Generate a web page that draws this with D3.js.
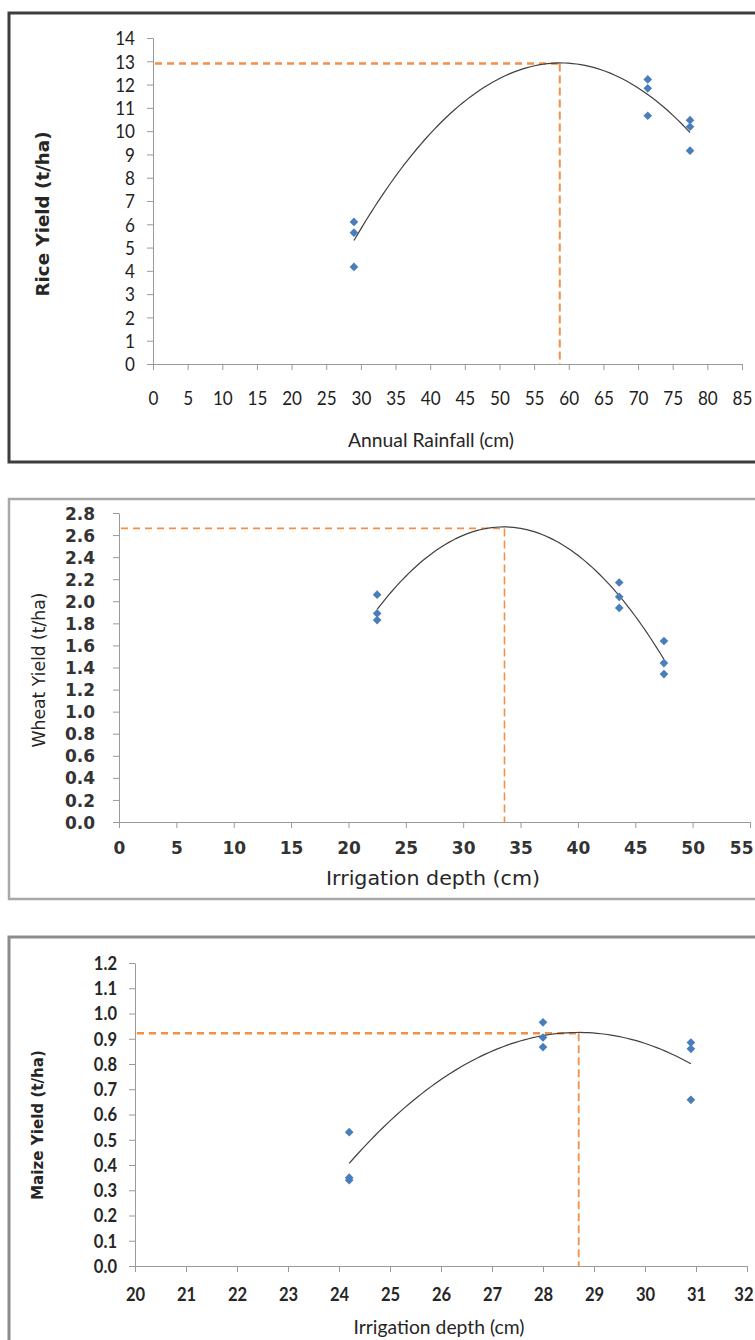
<!DOCTYPE html>
<html>
<head>
<meta charset="utf-8">
<script src="https://cdn.jsdelivr.net/npm/d3@7"></script>
<style>
  body { margin: 0; background: #fff; }
  svg { display: block; }
</style>
</head>
<body>
<svg id="chart"></svg>
<script>
// rice vs annual rainfall
var riceX = [29, 29, 29, 71.4, 71.4, 71.4, 77.5, 77.5, 77.5]
var riceY = [6.10, 5.64, 4.17, 12.22, 11.84, 10.66, 10.47, 10.19, 9.16]
var riceOpt = [58.7, 12.9]
var riceXTicks = [0, 5, 10, 15, 20, 25, 30, 35, 40, 45, 50, 55, 60, 65, 70, 75, 80, 85]
var riceYTicks = [0, 1, 2, 3, 4, 5, 6, 7, 8, 9, 10, 11, 12, 13, 14]

// wheat vs irrigation depth
var wheatX = [22.5, 22.5, 22.5, 43.6, 43.6, 43.6, 47.5, 47.5, 47.5]
var wheatY = [2.06, 1.89, 1.83, 2.17, 2.04, 1.94, 1.64, 1.44, 1.34]
var wheatOpt = [33.6, 2.66]
var wheatXTicks = [0, 5, 10, 15, 20, 25, 30, 35, 40, 45, 50, 55]
var wheatYTicks = [0, 0.2, 0.4, 0.6, 0.8, 1.0, 1.2, 1.4, 1.6, 1.8, 2.0, 2.2, 2.4, 2.6, 2.8]

// maize vs irrigation depth
var maizeX = [24.2, 24.2, 24.2, 28.0, 28.0, 28.0, 30.9, 30.9, 30.9]
var maizeY = [0.53, 0.35, 0.34, 0.965, 0.905, 0.867, 0.885, 0.86, 0.658]
var maizeOpt = [28.7, 0.922]
var maizeXTicks = [20, 21, 22, 23, 24, 25, 26, 27, 28, 29, 30, 31, 32]
var maizeYTicks = [0, 0.1, 0.2, 0.3, 0.4, 0.5, 0.6, 0.7, 0.8, 0.9, 1.0, 1.1, 1.2]

var width = 755, height = 1340
var calibri = "Lato, 'Open Sans', sans-serif"
var verdana = "'DejaVu Sans', Verdana, sans-serif"

const svg = d3.select("#chart")
  .attr("width", width)
  .attr("height", height)
  .attr("viewBox", [0, 0, width, height])

// least squares quadratic, like the excel trendline
function polyFit(xs, ys) {
  var s = [0, 0, 0, 0, 0], t = [0, 0, 0]
  xs.forEach((x, i) => {
    for (var k = 0; k < 5; k++) s[k] += Math.pow(x, k)
    for (var k = 0; k < 3; k++) t[k] += ys[i] * Math.pow(x, k)
  })
  var m = [[s[0], s[1], s[2], t[0]], [s[1], s[2], s[3], t[1]], [s[2], s[3], s[4], t[2]]]
  for (var c = 0; c < 3; c++) {
    for (var r = c + 1; r < 3; r++) {
      var f = m[r][c] / m[c][c]
      for (var k = c; k < 4; k++) m[r][k] -= f * m[c][k]
    }
  }
  var co = [0, 0, 0]
  for (var r = 2; r >= 0; r--) {
    var v = m[r][3]
    for (var k = r + 1; k < 3; k++) v -= m[r][k] * co[k]
    co[r] = v / m[r][r]
  }
  return x => co[0] + co[1] * x + co[2] * x * x
}

var panels = [
  {
    xs: riceX, ys: riceY, opt: riceOpt, xTicks: riceXTicks, yTicks: riceYTicks,
    xRange: [153, 742], yRange: [364, 38],
    frame: {y: 13, h: 449, color: "#3d3d3d", w: 3},
    tick: {font: calibri, size: 19, weight: "normal", sx: 0.9, color: "#1e1e1e", yOff: 18, xOff: 34},
    fmt: d3.format("d"),
    xTitle: {text: "Annual Rainfall (cm)", font: calibri, size: 20, weight: "normal", len: 166, pos: [431, 440]},
    yTitle: {text: "Rice Yield (t/ha)", font: verdana, size: 17, weight: "bold", len: 165, pos: [43, 214]},
    hDash: 2.5, vDash: 2
  },
  {
    xs: wheatX, ys: wheatY, opt: wheatOpt, xTicks: wheatXTicks, yTicks: wheatYTicks,
    xRange: [119, 750], yRange: [822, 513],
    frame: {y: 499, h: 400, color: "#a8a8a8", w: 2.5},
    tick: {font: verdana, size: 17, weight: "bold", sx: 1, color: "#333", yOff: 24, xOff: 26},
    fmt: d3.format(".1f"),
    xTitle: {text: "Irrigation depth (cm)", font: verdana, size: 19, weight: "normal", len: 214, pos: [433, 878]},
    yTitle: {text: "Wheat Yield (t/ha)", font: verdana, size: 17, weight: "normal", len: 155, pos: [39, 670]},
    hDash: 1.8, vDash: 1.6
  },
  {
    xs: maizeX, ys: maizeY, opt: maizeOpt, xTicks: maizeXTicks, yTicks: maizeYTicks,
    xRange: [135, 747], yRange: [1266, 963],
    frame: {y: 937, h: 500, color: "#8c8c8c", w: 3},
    tick: {font: calibri, size: 18, weight: "bold", sx: 0.92, color: "#262626", yOff: 18, xOff: 29},
    fmt: d3.format(".1f"),
    xTitle: {text: "Irrigation depth (cm)", font: calibri, size: 19, weight: "normal", len: 171, pos: [439, 1327]},
    yTitle: {text: "Maize Yield (t/ha)", font: verdana, size: 15, weight: "bold", len: 150, pos: [38, 1125]},
    hDash: 2.5, vDash: 1.8
  }
]

function styleTicks(sel, t) {
  sel.selectAll(".tick text")
    .attr("fill", t.color)
    .style("font-family", t.font)
    .style("font-size", t.size + "px")
    .style("font-weight", t.weight)
}

function addTitle(t, rotate) {
  svg.append("text")
    .attr("transform", `translate(${t.pos[0]},${t.pos[1]})` + (rotate ? " rotate(-90)" : ""))
    .attr("text-anchor", "middle")
    .attr("dy", "0.35em")
    .attr("fill", "#262626")
    .attr("textLength", t.len)
    .attr("lengthAdjust", "spacingAndGlyphs")
    .style("font-family", t.font)
    .style("font-size", t.size + "px")
    .style("font-weight", t.weight)
    .text(t.text)
}

panels.forEach(p => {
  var x = d3.scaleLinear()
    .domain(d3.extent(p.xTicks))
    .range(p.xRange)
  var y = d3.scaleLinear()
    .domain(d3.extent(p.yTicks))
    .range(p.yRange)

  // frame
  svg.append("rect")
    .attr("x", 9).attr("y", p.frame.y)
    .attr("width", 800).attr("height", p.frame.h)
    .attr("fill", "none")
    .attr("stroke", p.frame.color)
    .attr("stroke-width", p.frame.w)

  var g = svg.append("g")

  var xAxis = g.append("g")
    .attr("transform", `translate(0,${p.yRange[0]})`)
    .call(d3.axisBottom(x).tickValues(p.xTicks).tickFormat(d3.format("d"))
      .tickSize(6).tickSizeOuter(0))
  var yAxis = g.append("g")
    .attr("transform", `translate(${p.xRange[0]},0)`)
    .call(d3.axisLeft(y).tickValues(p.yTicks).tickFormat(p.fmt)
      .tickSize(6).tickSizeOuter(0))

  g.selectAll(".domain, .tick line").attr("stroke", "#9a9a9a")
  styleTicks(g, p.tick)
  xAxis.selectAll(".tick text")
    .attr("y", p.tick.xOff).attr("dy", "0.36em")
    .attr("transform", `scale(${p.tick.sx},1)`)
  // last label would run off the page, keep it inside
  xAxis.selectAll(".tick text")
    .filter(d => d === p.xTicks[p.xTicks.length - 1] && x(d) > width - 12)
    .attr("text-anchor", "end")
    .attr("x", (width - 2 - x(p.xTicks[p.xTicks.length - 1])) / p.tick.sx)
  yAxis.selectAll(".tick text")
    .attr("x", -p.tick.yOff / p.tick.sx).attr("dy", "0.36em")
    .attr("transform", `scale(${p.tick.sx},1)`)

  // optimum guide lines
  svg.append("line")
    .attr("x1", x(p.xTicks[0]) + 2).attr("x2", x(p.opt[0]))
    .attr("y1", y(p.opt[1])).attr("y2", y(p.opt[1]))
    .attr("stroke", "#f0904a").attr("stroke-width", p.hDash)
    .attr("stroke-dasharray", "7,5")
  svg.append("line")
    .attr("x1", x(p.opt[0])).attr("x2", x(p.opt[0]))
    .attr("y1", y(p.opt[1])).attr("y2", y(0))
    .attr("stroke", "#f0904a").attr("stroke-width", p.vDash)
    .attr("stroke-dasharray", "8,4")

  // trendline
  var fit = polyFit(p.xs, p.ys)
  var x0 = d3.min(p.xs), x1 = d3.max(p.xs)
  var pts = d3.range(0, 81).map(i => x0 + (x1 - x0) * i / 80)
  svg.append("path")
    .attr("d", d3.line().x(d => x(d)).y(d => y(fit(d)))(pts))
    .attr("fill", "none")
    .attr("stroke", "#404040")
    .attr("stroke-width", 1.2)

  // points
  svg.append("g")
    .attr("fill", "#4a7ebb")
    .selectAll("path")
    .data(p.xs.map((d, i) => [d, p.ys[i]]))
    .join("path")
      .attr("transform", d => `translate(${x(d[0])},${y(d[1])})`)
      .attr("d", d3.symbol(d3.symbolDiamond2, 48))

  addTitle(p.xTitle, false)
  addTitle(p.yTitle, true)
})
</script>
</body>
</html>
